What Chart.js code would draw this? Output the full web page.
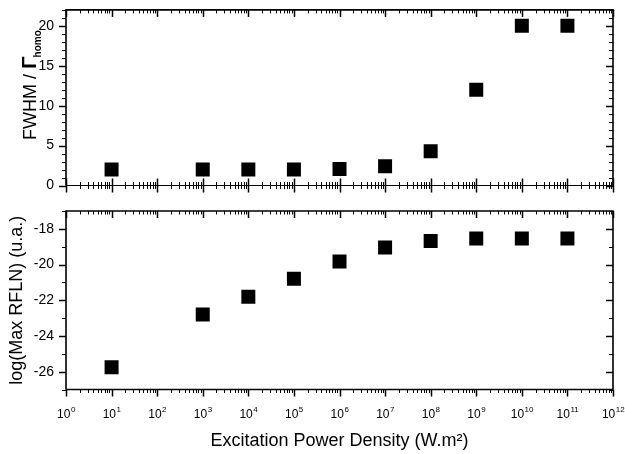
<!DOCTYPE html>
<html lang="en">
<head>
<meta charset="UTF-8">
<title>FWHM and Max RFLN vs Excitation Power Density</title>
<script src="https://cdn.jsdelivr.net/npm/chart.js@4.4.0/dist/chart.umd.min.js"></script>
<style>
    body {
        margin: 0;
        background-color: white;
    }
    #wrap {
        position: relative;
        width: 625px;
        height: 454px;
    }
    .panel {
        position: absolute;
        left: 0;
        width: 625px;
    }
    #topBox { top: 0; height: 200px; }
    #botBox { top: 200px; height: 254px; }
</style>
</head>
<body>
<div id="wrap">
    <div class="panel" id="topBox"><canvas id="topChart"></canvas></div>
    <div class="panel" id="botBox"><canvas id="botChart"></canvas></div>
</div>
<script>
// data
const powerDensity = [1e1, 1e3, 1e4, 1e5, 1e6, 1e7, 1e8, 1e9, 1e10, 1e11];
const fwhmRatio = [2.0, 2.0, 2.0, 2.0, 2.06, 2.4, 4.3, 12.0, 20.0, 20.0];
const logMaxRfln = [-25.76, -22.8, -21.8, -20.8, -19.83, -19.05, -18.68, -18.54, -18.54, -18.54];

// tick labels
const xDecades = [1e0, 1e1, 1e2, 1e3, 1e4, 1e5, 1e6, 1e7, 1e8, 1e9, 1e10, 1e11, 1e12];
const xExponents = [0, 1, 2, 3, 4, 5, 6, 7, 8, 9, 10, 11, 12];
const fwhmTicks = [0, 5, 10, 15, 20];
const rflnTicks = [-26, -24, -22, -20, -18];

const FONT = '"Liberation Sans", Arial, sans-serif';

// minor ticks (axis decoration only)
const xMinor = [];
xDecades.slice(0, -1).forEach(d => { for (let m = 2; m <= 9; m++) xMinor.push(m * d); });
const fwhmMinor = [];
for (let v = 0; v <= 22; v++) if (!fwhmTicks.includes(v)) fwhmMinor.push(v);
const rflnMinor = [];
for (let v = -27; v <= -17; v++) if (!rflnTicks.includes(v)) rflnMinor.push(v);

// frame + Origin style ticks on all four sides
const frameTicks = {
    id: 'frameTicks',
    afterDatasetsDraw(chart, args, opts) {
        const { ctx, chartArea: a, scales: { x, y } } = chart;
        const seg = (x1, y1, x2, y2) => {
            ctx.beginPath();
            ctx.moveTo(x1, y1);
            ctx.lineTo(x2, y2);
            ctx.stroke();
        };
        ctx.save();
        ctx.strokeStyle = '#000';
        const doX = (vals, len, lw) => {
            ctx.lineWidth = lw;
            vals.forEach(v => {
                const px = Math.round(x.getPixelForValue(v)) + 0.5;
                seg(px, a.top, px, a.top + len);
                if (opts.bottom === 'cross') seg(px, a.bottom - len, px, a.bottom + len);
                else seg(px, a.bottom, px, a.bottom + len);
            });
        };
        const doY = (vals, len, lw) => {
            ctx.lineWidth = lw;
            vals.forEach(v => {
                const py = Math.round(y.getPixelForValue(v)) + 0.5;
                seg(a.left - len, py, a.left, py);
                seg(a.right - len, py, a.right, py);
            });
        };
        doX(xMinor, 3.5, 1);
        doX(xDecades, 7, 1.5);
        doY(opts.yMinor, 4, 1);
        doY(opts.yMajor, 7, 1.5);
        ctx.lineWidth = 1.6;
        ctx.beginPath();
        ctx.moveTo(a.left, a.bottom);
        ctx.lineTo(a.left, a.top);
        ctx.lineTo(a.right, a.top);
        ctx.lineTo(a.right, a.bottom);
        ctx.stroke();
        ctx.lineWidth = opts.bottom === 'cross' ? 1.2 : 1.6;
        seg(a.left, a.bottom, a.right, a.bottom);

        // decade labels 10^n with a raised exponent
        if (opts.labels) {
            ctx.fillStyle = '#000';
            ctx.textBaseline = 'alphabetic';
            ctx.textAlign = 'left';
            xDecades.forEach((d, i) => {
                const px = x.getPixelForValue(d);
                ctx.font = '12px ' + FONT;
                const wBase = ctx.measureText('10').width;
                ctx.font = '8px ' + FONT;
                const wExp = ctx.measureText(String(xExponents[i])).width;
                const x0 = px - (wBase + wExp) / 2;
                ctx.font = '12px ' + FONT;
                ctx.fillText('10', x0, a.bottom + 28);
                ctx.font = '8px ' + FONT;
                ctx.fillText(String(xExponents[i]), x0 + wBase + 0.5, a.bottom + 22);
            });
        }
        ctx.restore();
    }
};

// y title of the top panel: FWHM / Γ with "homo" subscript
const fwhmTitle = {
    id: 'fwhmTitle',
    afterDraw(chart) {
        const { ctx } = chart;
        const partA = 'FWHM / ';
        const partB = 'Γ';
        const partC = 'homo';
        ctx.save();
        ctx.fillStyle = '#000';
        ctx.textBaseline = 'alphabetic';
        ctx.translate(36, 140);
        ctx.rotate(-Math.PI / 2);
        ctx.font = '18px ' + FONT;
        ctx.fillText(partA, 0, 0);
        let off = ctx.measureText(partA).width;
        ctx.font = 'bold 21px ' + FONT;
        ctx.fillText(partB, off, 0);
        off += ctx.measureText(partB).width;
        ctx.font = 'bold 10px ' + FONT;
        ctx.fillText(partC, off - 1, 5);
        ctx.restore();
    }
};

const markStyle = {
    pointStyle: 'rect',
    pointRadius: 9.9,
    pointHoverRadius: 9.9,
    backgroundColor: '#000',
    borderWidth: 0,
    showLine: false
};

const xScale = (show) => ({
    type: 'logarithmic',
    min: 1,
    max: 1e12,
    display: show,
    afterBuildTicks: s => { s.ticks = xDecades.map(v => ({ value: v })); },
    afterFit: s => { if (show) s.height = 64.5; },
    grid: { display: false, drawTicks: false },
    border: { display: false },
    ticks: { display: false },
    title: {
        display: true,
        text: 'Excitation Power Density (W.m²)',
        color: '#000',
        font: { family: FONT, size: 18 },
        padding: { top: 0, bottom: 2 }
    }
});

// y axis shared settings: labels sit 12px left of the frame
const yScale = (lo, hi, ticks) => ({
    min: lo,
    max: hi,
    afterBuildTicks: s => { s.ticks = ticks.map(v => ({ value: v })); },
    afterFit: s => { s.width = 66; },
    grid: { display: false, drawTicks: true, tickLength: 12 },
    border: { display: false },
    ticks: { padding: 0, color: '#000', font: { family: FONT, size: 14, lineHeight: 0.9 } }
});

new Chart(document.getElementById('topChart'), {
    type: 'scatter',
    data: {
        datasets: [{
            data: powerDensity.map((p, i) => ({ x: p, y: fwhmRatio[i] })),
            ...markStyle
        }]
    },
    options: {
        responsive: true,
        maintainAspectRatio: false,
        animation: false,
        events: [],
        layout: { padding: { left: 0, right: 12, top: 6.75, bottom: 14.5 } },
        plugins: {
            legend: { display: false },
            tooltip: { enabled: false },
            frameTicks: { bottom: 'cross', yMajor: fwhmTicks, yMinor: fwhmMinor, labels: false }
        },
        scales: {
            x: xScale(false),
            y: yScale(0, 22, fwhmTicks)
        }
    },
    plugins: [frameTicks, fwhmTitle]
});

const botY = yScale(-27, -17, rflnTicks);
botY.title = {
    display: true,
    text: 'log(Max RFLN) (u.a.)',
    color: '#000',
    font: { family: FONT, size: 18 },
    padding: { top: 6, bottom: 0 }
};

new Chart(document.getElementById('botChart'), {
    type: 'scatter',
    data: {
        datasets: [{
            data: powerDensity.map((p, i) => ({ x: p, y: logMaxRfln[i] })),
            ...markStyle
        }]
    },
    options: {
        responsive: true,
        maintainAspectRatio: false,
        animation: false,
        events: [],
        layout: { padding: { left: 0, right: 12, top: 11, bottom: 0 } },
        plugins: {
            legend: { display: false },
            tooltip: { enabled: false },
            frameTicks: { bottom: 'out', yMajor: rflnTicks, yMinor: rflnMinor, labels: true }
        },
        scales: {
            x: xScale(true),
            y: botY
        }
    },
    plugins: [frameTicks]
});
</script>
</body>
</html>
